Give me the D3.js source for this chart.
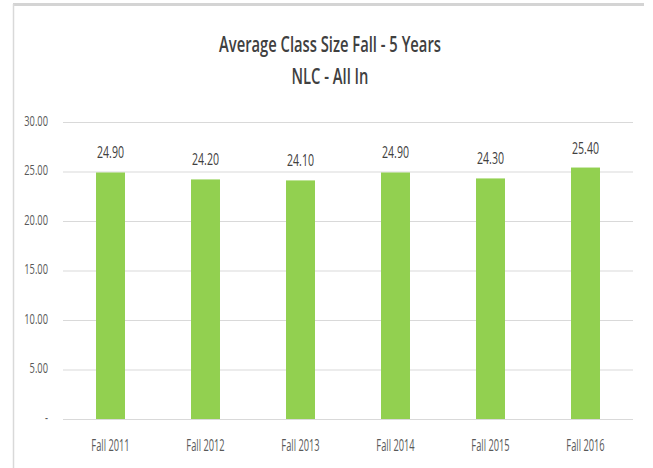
<!DOCTYPE html>
<html>
<head>
<meta charset="utf-8">
<script src="https://cdn.jsdelivr.net/npm/d3@7"></script>
<style>
    body { margin: 0; background: #fff; }
    text { font-family: "Open Sans", "DejaVu Sans", sans-serif; }
</style>
</head>
<body>
<svg id="chart" width="653" height="468"></svg>
<script>
// Chart data
const categories = ['Fall 2011', 'Fall 2012', 'Fall 2013', 'Fall 2014', 'Fall 2015', 'Fall 2016'];
const classSize = [24.9, 24.2, 24.1, 24.9, 24.3, 25.4];
const yTicks = [0, 5, 10, 15, 20, 25, 30];
const titleLines = ['Average Class Size Fall - 5 Years', 'NLC - All In'];

// Squeeze text horizontally, the reference uses a narrow font
function condense(selection, factor) {
    selection.each(function () {
        let w = this.getComputedTextLength();
        d3.select(this).attr('textLength', w * factor).attr('lengthAdjust', 'spacingAndGlyphs');
    });
}

function draw_bar_chart(canvasName) {
    let svg = d3.select(canvasName);
    let width = +svg.attr('width');
    let height = +svg.attr('height');

    // Chart frame (top and left edge only)
    svg.append('rect').attr('width', width).attr('height', height).attr('fill', '#fff');
    svg.append('line')
        .attr('x1', 13).attr('x2', 644).attr('y1', 4.5).attr('y2', 4.5)
        .attr('stroke', '#d4d4d4').attr('stroke-width', 3);
    svg.append('line')
        .attr('x1', 13.5).attr('x2', 13.5).attr('y1', 4).attr('y2', height)
        .attr('stroke', '#d9d9d9').attr('stroke-width', 1.5);

    // Scales
    let x = d3.scaleBand().domain(categories).range([63, 633])
        .paddingInner(0.695).paddingOuter(0.3475);
    let y = d3.scaleLinear().domain([0, 30]).range([419, 122]);

    // Gridlines
    svg.append('g')
        .selectAll('line')
        .data(yTicks)
        .enter()
        .append('line')
        .attr('x1', 63).attr('x2', 633)
        .attr('y1', (d) => y(d) + 0.5).attr('y2', (d) => y(d) + 0.5)
        .attr('stroke', '#d9d9d9').attr('stroke-width', 1);

    // Y axis labels
    let yAxis = d3.axisLeft(y).tickValues(yTicks).tickSize(0).tickPadding(0)
        .tickFormat((d) => (d === 0 ? '-' : d.toFixed(2)));
    let gy = svg.append('g').attr('transform', 'translate(48,0)').call(yAxis);
    gy.select('.domain').remove();
    gy.selectAll('text')
        .attr('fill', '#595959')
        .attr('dy', '0.2em')
        .style('font-size', '15px')
        .style('font-family', '"Open Sans", "DejaVu Sans", sans-serif')
        .call(condense, 0.62);

    // Bars
    svg.append('g')
        .selectAll('rect')
        .data(classSize)
        .enter()
        .append('rect')
        .attr('x', (d, i) => x(categories[i]))
        .attr('y', (d) => y(d))
        .attr('width', x.bandwidth())
        .attr('height', (d) => y(0) - y(d))
        .attr('fill', '#92d050');

    // Value labels
    svg.append('g')
        .selectAll('text')
        .data(classSize)
        .enter()
        .append('text')
        .attr('x', (d, i) => x(categories[i]) + x.bandwidth() / 2)
        .attr('y', (d) => y(d) - 14)
        .attr('text-anchor', 'middle')
        .attr('fill', '#404040')
        .style('font-size', '16px')
        .text((d) => d.toFixed(2))
        .call(condense, 0.66);

    // X axis labels
    let xAxis = d3.axisBottom(x).tickSize(0).tickPadding(0);
    let gx = svg.append('g').attr('transform', 'translate(0,451)').call(xAxis);
    gx.select('.domain').remove();
    gx.selectAll('text')
        .attr('dy', 0)
        .attr('fill', '#595959')
        .style('font-size', '16px')
        .style('font-family', '"Open Sans", "DejaVu Sans", sans-serif')
        .call(condense, 0.58);

    // Title
    svg.append('g')
        .selectAll('text')
        .data(titleLines)
        .enter()
        .append('text')
        .attr('x', 330)
        .attr('y', (d, i) => 52 + i * 32)
        .attr('text-anchor', 'middle')
        .attr('fill', '#404040')
        .style('font-size', '22px')
        .style('font-weight', 600)
        .text((d) => d)
        .call(condense, 0.67);
}

draw_bar_chart('#chart');
</script>
</body>
</html>
